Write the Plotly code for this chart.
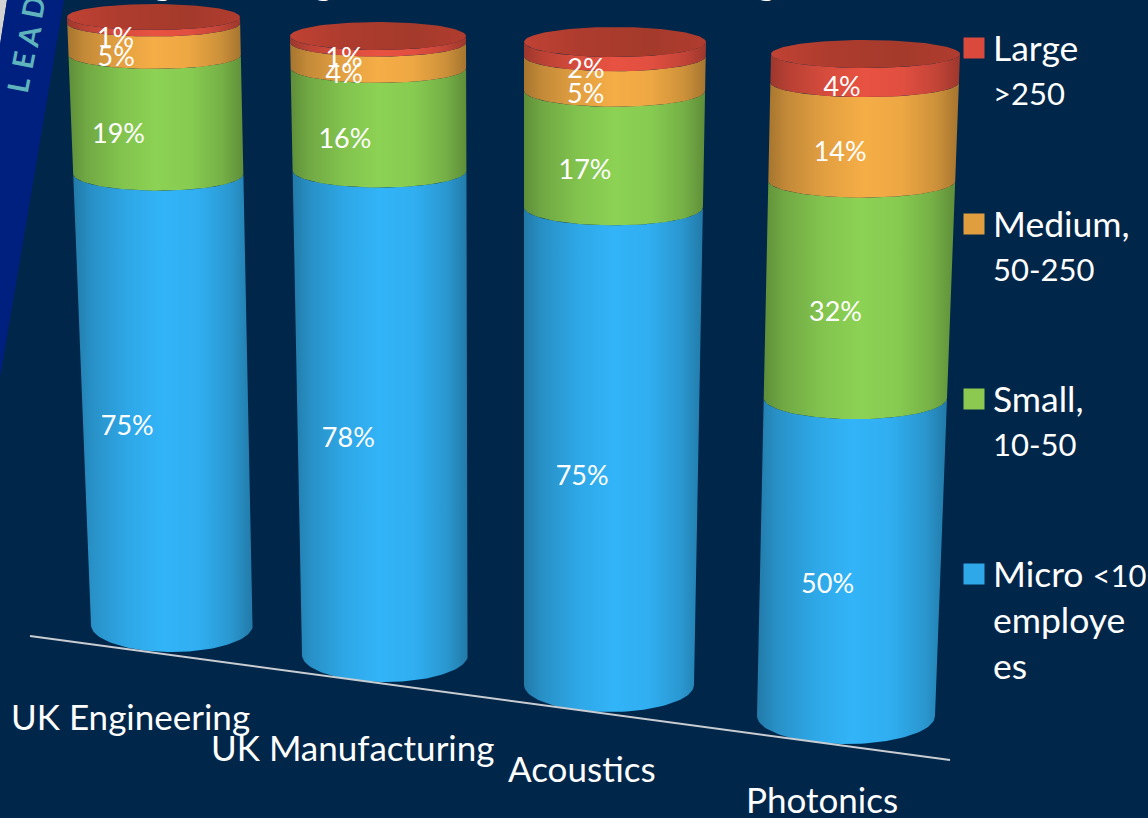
import re
import numpy as np
import plotly.graph_objects as go

categories = ["UK Engineering", "UK Manufacturing", "Acoustics", "Photonics"]
micro = [75, 78, 75, 50]
small = [19, 16, 17, 32]
medium = [5, 4, 5, 14]
large = [1, 1, 2, 4]
legend_lines = [["Large", ">250"], ["Medium,", "50-250"], ["Small,", "10-50"], ["Micro <10", "employe", "es"]]
band_letters = ["L", "E", "A", "D"]

series = [micro, small, medium, large]
base_colors = [(50, 180, 248), (140, 210, 84), (245, 173, 70), (232, 82, 66)]
legend_colors = ["#D94A3C", "#E09E3E", "#8CC950", "#2FA8EA"]
BG = "#00264A"
FONT = "Lato"

# projection of each cylinder: bottom (cx, cy, rx, ry) and top (cx, cy, rx, ry), in axis units
geom = [
    ((172, 625, 81, 27), (153.5, 17, 86.5, 13)),
    ((385, 655, 83, 27), (378, 36, 88, 14)),
    ((609, 685, 85, 27), (615, 42, 91, 15)),
    ((846, 716, 89, 28), (865.5, 54, 94.5, 14)),
]
label_dx = [-38, -34, -29, -23]
foreshorten = [0.957, 0.968, 0.925, 0.925]
shade_stops = [(0, .68), (.1, .80), (.3, .93), (.5, 1.0), (.7, .97), (.88, .84), (1, .68)]


def ring(i, t):
    a_ = foreshorten[i]
    s = t * a_ / (t * a_ + 1 - t)
    b, a = np.array(geom[i][0], float), np.array(geom[i][1], float)
    return b + (a - b) * s


def gradient(rgb):
    return dict(type="horizontal", colorscale=[
        [p, "rgb(%d,%d,%d)" % tuple(int(c * f) for c in rgb)] for p, f in shade_stops])


def legend_markup(t):
    def sub(m):
        return "<span style='font-size:31px'>" + m.group(1).replace("<", "&lt;").replace(">", "&gt;") + "</span>"
    return re.sub(r"([<>]?\d[\d-]*)", sub, t)


fig = go.Figure()
ang = np.linspace(0, np.pi, 61)
lx, ly, lt = [], [], []
for i in range(len(categories)):
    base = 0.0
    total = sum(v[i] for v in series)
    for k, vals in enumerate(series):
        t0, t1 = base / total, (base + vals[i]) / total
        c0, c1 = ring(i, t0), ring(i, t1)
        x = np.r_[c1[0] - c1[2] * np.cos(ang), (c0[0] - c0[2] * np.cos(ang))[::-1]]
        y = np.r_[c1[1] + c1[3] * np.sin(ang), (c0[1] + c0[3] * np.sin(ang))[::-1]]
        fig.add_trace(go.Scatter(x=x, y=y, mode="lines", line=dict(width=0), fill="toself",
                                 fillgradient=gradient(base_colors[k]), hoverinfo="skip", showlegend=False))
        tm = (t0 + t1) / 2
        m = ring(i, tm)
        lx.append(m[0] + label_dx[i]); ly.append(m[1] + m[3] + 7 * tm); lt.append(f"{vals[i]}%")
        base += vals[i]
    c = ring(i, 1.0)
    full = np.linspace(0, 2 * np.pi, 121)
    fig.add_trace(go.Scatter(x=c[0] + c[2] * np.cos(full), y=c[1] + c[3] * np.sin(full), mode="lines",
                             line=dict(width=0), fill="toself",
                             fillgradient=dict(type="horizontal", colorscale=[[0, "#C04234"], [.3, "#AE3C2E"], [.7, "#A43A2B"], [1, "#B03C2F"]]),
                             hoverinfo="skip", showlegend=False))

fig.add_trace(go.Scatter(x=[30, 950], y=[636, 760], mode="lines", line=dict(color="#C9CDD2", width=2),
                         hoverinfo="skip", showlegend=False))
fig.add_trace(go.Scatter(x=lx, y=ly, mode="text", text=lt, textposition="middle center",
                         textfont=dict(family=FONT, size=27, color="white"), hoverinfo="skip", showlegend=False))

ann = []
cat_pos = [(9, 716), (209, 747), (506, 768), (744, 799)]
for c, (x, y) in zip(categories, cat_pos):
    ann.append(dict(x=x, y=y, text=c, xanchor="left", yanchor="middle", showarrow=False,
                    font=dict(family=FONT, size=35, color="white")))
leg_y = [47, 223, 398, 573]
line_step = 46
sq_x, sq_y = [], []
for lines, y0 in zip(legend_lines, leg_y):
    for j, t in enumerate(lines):
        ann.append(dict(x=991, y=y0 + j * line_step, text=legend_markup(t), xanchor="left", yanchor="middle",
                        showarrow=False, font=dict(family=FONT, size=35.5, color="white")))
    sq_x.append(974); sq_y.append(y0 + 1)
fig.add_trace(go.Scatter(x=sq_x, y=sq_y, mode="markers",
                         marker=dict(symbol="square", size=21, color=legend_colors, line=dict(width=0)),
                         hoverinfo="skip", showlegend=False))

# decoration band, upper left
fig.add_trace(go.Scatter(x=[0, 7, 0], y=[0, 0, 45], mode="lines", line=dict(width=0), fill="toself",
                         fillcolor="#D3D3D3", hoverinfo="skip", showlegend=False))
fig.add_trace(go.Scatter(x=[7, 64, 0, 0], y=[0, 0, 378, 45], mode="lines", line=dict(width=0), fill="toself",
                         fillcolor="#00207F", hoverinfo="skip", showlegend=False))
for ch, (x, y) in zip(band_letters, [(17, 85), (22, 60), (28, 36), (32, 7)]):
    ann.append(dict(x=x, y=y, text="<b>" + ch + "</b>", textangle=-79, showarrow=False,
                    font=dict(family=FONT, size=29, color="#5FB3BC")))
# descenders of the cropped title at the top edge
for x in [162, 323, 766]:
    ann.append(dict(x=x, y=5, text="g", xanchor="center", yanchor="bottom", showarrow=False,
                    font=dict(family=FONT, size=40, color="white")))

fig.update_layout(width=1148, height=818, paper_bgcolor=BG, plot_bgcolor=BG,
                  margin=dict(l=0, r=0, t=0, b=0), annotations=ann,
                  xaxis=dict(range=[0, 1148], visible=False, fixedrange=True),
                  yaxis=dict(range=[818, 0], visible=False, fixedrange=True))
fig.write_html("out.html", config=dict(displayModeBar=False),
               post_script="document.body.style.margin='0';document.body.style.background='%s';" % BG)
